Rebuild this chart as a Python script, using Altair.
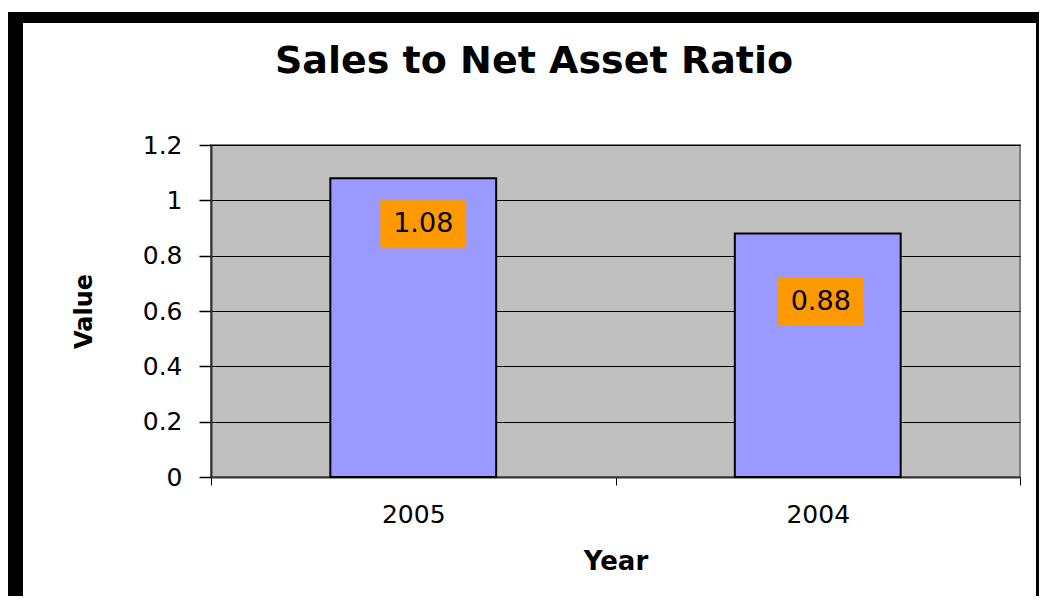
import altair as alt
import pandas as pd

YEARS = ["2005", "2004"]
VALUES = [1.08, 0.88]
LABELS = ["1.08", "0.88"]
Y_TICKS = [0, 0.2, 0.4, 0.6, 0.8, 1.0, 1.2]
TITLE = "Sales to Net Asset Ratio"

df = pd.DataFrame({"Year": YEARS, "Value": VALUES, "Label": LABELS})

FONT = "DejaVu Sans"
W, H = 809, 332
HALF_STEP = W / len(YEARS) / 2

x_enc = alt.X(
    "Year:N",
    sort=YEARS,
    scale=alt.Scale(paddingInner=0, paddingOuter=0),
    axis=alt.Axis(
        title="Year",
        labelAngle=0,
        tickBand="extent",
        tickSize=8,
        tickColor="#000000",
        tickWidth=1,
        domainColor="#333333",
        domainWidth=2,
        labelFont=FONT,
        labelFontSize=25,
        labelColor="#000000",
        labelPadding=17,
        titleFont=FONT,
        titleFontSize=26,
        titleFontWeight="bold",
        titleColor="#000000",
        titlePadding=21,
        grid=False,
    ),
)
y_enc = alt.Y(
    "Value:Q",
    scale=alt.Scale(domain=[0, 1.2], nice=False, zero=True),
    axis=alt.Axis(
        title="Value",
        values=Y_TICKS,
        format="~g",
        tickSize=12,
        tickColor="#000000",
        tickWidth=1.5,
        domainColor="#333333",
        domainWidth=2,
        gridColor="#000000",
        gridWidth=1,
        labelFont=FONT,
        labelFontSize=25,
        labelColor="#000000",
        labelPadding=17,
        titleFont=FONT,
        titleFontSize=24,
        titleFontWeight="bold",
        titleColor="#000000",
        titlePadding=46,
    ),
)

base = alt.Chart(df)

bars = base.mark_bar(
    color="#9999FF", stroke="#000000", strokeWidth=2, width=alt.RelativeBandSize(0.41)
).encode(x=x_enc, y=y_enc)

# label boxes (style offsets per year)
SHIFT = {"2005": (10, 46), "2004": (3, 68)}
BOX = "M-1.79,-1L1.79,-1L1.79,1L-1.79,1Z"
label_layers = []
for yr in YEARS:
    dx, dy = SHIFT[yr]
    sub = base.transform_filter(alt.datum.Year == yr)
    box = sub.mark_point(shape=BOX, size=2304, filled=True, color="#FF9900", opacity=1, strokeWidth=0).encode(
        x=alt.X("Year:N", sort=YEARS),
        y="Value:Q",
        xOffset=alt.value(HALF_STEP + dx),
        yOffset=alt.value(dy),
    )
    txt = sub.mark_text(font=FONT, fontSize=27, color="#000000", align="center", baseline="middle", dx=dx, dy=dy).encode(
        x=alt.X("Year:N", sort=YEARS), y="Value:Q", text="Label:N"
    )
    label_layers += [box, txt]

one = alt.Chart(pd.DataFrame({"t": [TITLE]}))

# chart title (placed on the chart area centre)
title = one.mark_text(
    font=FONT, fontSize=38, fontWeight="bold", color="#000000", align="center", baseline="alphabetic"
).encode(x=alt.value(323), y=alt.value(-72), text="t:N")

# black frame (decoration)
fr = one.mark_rect(color="#000000")
frame = [
    fr.encode(x=alt.value(-204), x2=alt.value(828), y=alt.value(-133), y2=alt.value(-122)),
    fr.encode(x=alt.value(-204), x2=alt.value(-188), y=alt.value(-133), y2=alt.value(463)),
    fr.encode(x=alt.value(825), x2=alt.value(828), y=alt.value(-133), y2=alt.value(463)),
]

chart = alt.layer(bars, *label_layers, title, *frame).properties(
    width=W,
    height=H,
    background="#FFFFFF",
    padding={"left": 203, "top": 137, "right": 19, "bottom": 119},
    autosize=alt.AutoSizeParams(type="none"),
).configure_view(fill="#C0C0C0", stroke="#808080", strokeWidth=2)

chart.save("out.html", embed_options={"renderer": "svg", "actions": False})
